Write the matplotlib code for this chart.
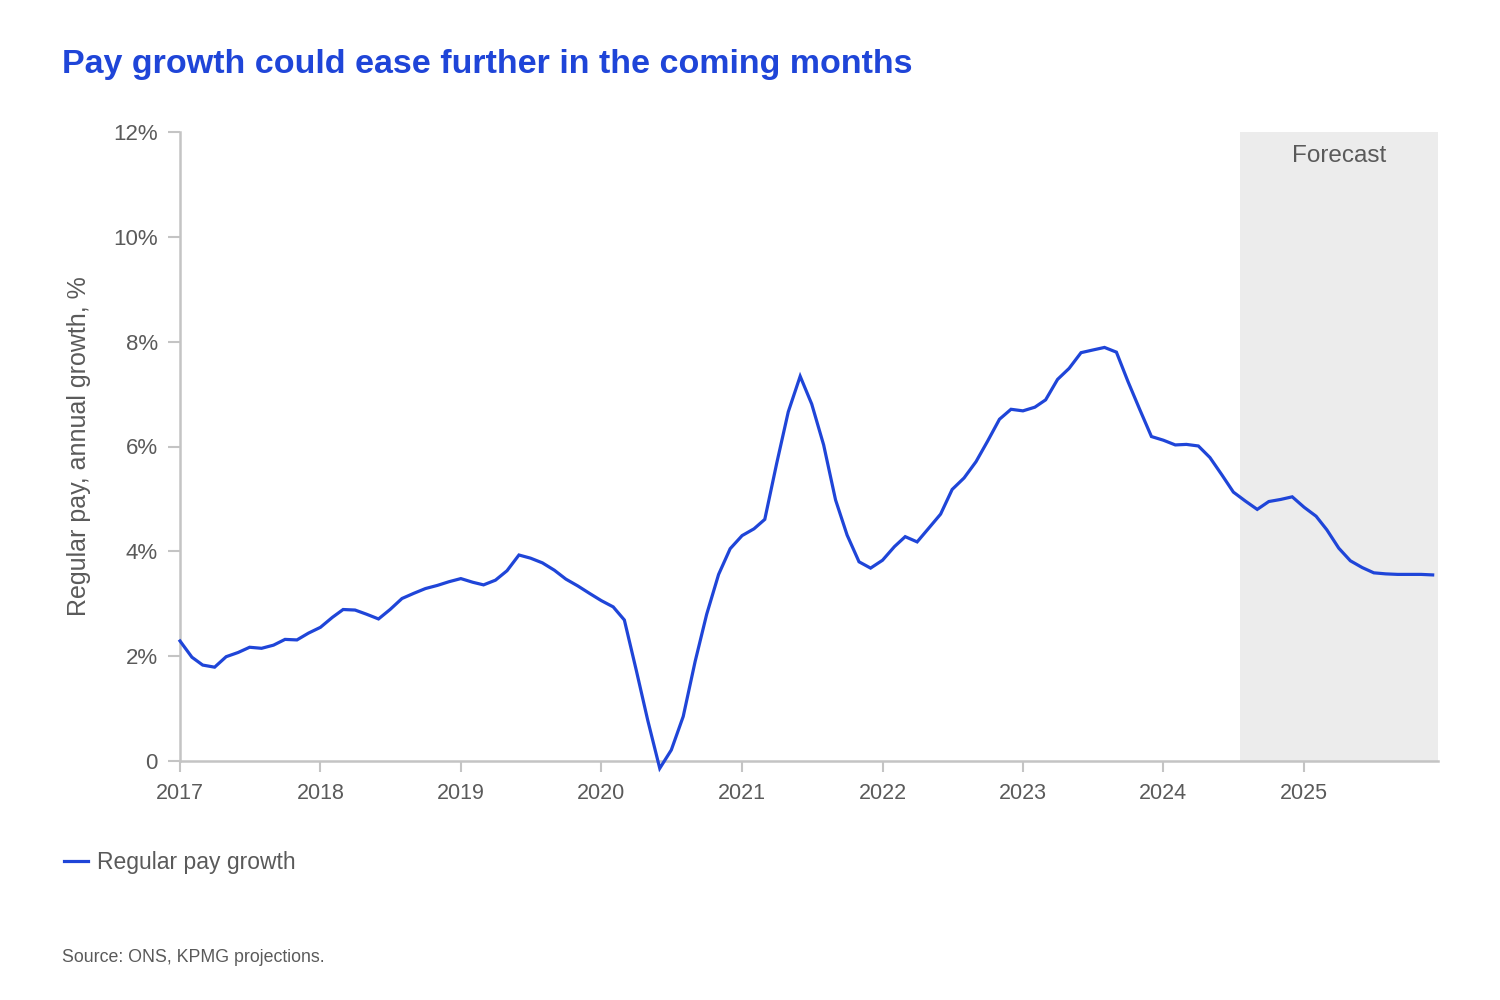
import matplotlib.pyplot as plt
import matplotlib.dates as mdates
import pandas as pd

# monthly regular pay growth, Jan 2017 - Dec 2025 (forecast from mid-2024)
months = pd.date_range("2017-01-01", periods=108, freq="MS")
pay_growth = [
    2.29, 1.98, 1.83, 1.79, 1.99, 2.07, 2.17, 2.15, 2.21, 2.32, 2.31, 2.44,
    2.55, 2.74, 2.89, 2.88, 2.80, 2.71, 2.89, 3.10, 3.20, 3.29, 3.35, 3.42,
    3.48, 3.41, 3.36, 3.45, 3.63, 3.93, 3.87, 3.78, 3.64, 3.47, 3.34, 3.20,
    3.06, 2.94, 2.69, 1.73, 0.77, -0.14, 0.21, 0.85, 1.90, 2.80, 3.56, 4.05,
    4.30, 4.43, 4.61, 5.68, 6.66, 7.34, 6.81, 6.03, 4.98, 4.31, 3.80, 3.68,
    3.83, 4.09, 4.28, 4.18, 4.44, 4.71, 5.18, 5.40, 5.71, 6.10, 6.52, 6.71,
    6.68, 6.75, 6.89, 7.28, 7.49, 7.79, 7.84, 7.89, 7.80, 7.24, 6.70, 6.19,
    6.12, 6.03, 6.04, 6.01, 5.79, 5.46, 5.13, 4.96, 4.80, 4.95, 4.99, 5.04,
    4.84, 4.67, 4.41, 4.06, 3.82, 3.69, 3.59, 3.57, 3.56, 3.56, 3.56, 3.55,
]
forecast_start = pd.Timestamp("2024-07-17")
x_end = pd.Timestamp("2025-12-15")
y_ticks = [0, 2, 4, 6, 8, 10, 12]
year_ticks = [pd.Timestamp(f"{y}-01-01") for y in range(2017, 2026)]

blue = "#1f45d8"
grey_text = "#5a5a5a"
axis_grey = "#c4c4c4"

plt.rcParams["font.family"] = ["Liberation Sans", "DejaVu Sans"]

fig = plt.figure(figsize=(15, 10), dpi=100)
ax = fig.add_axes([0.12, 0.239, 0.8387, 0.629])

ax.axvspan(forecast_start, x_end, color="#ececec", lw=0, zorder=0)
ax.plot(months, pay_growth, color=blue, lw=2.3, label="Regular pay growth", zorder=3,
        solid_joinstyle="miter", clip_on=False)

ax.set_xlim(months[0], x_end)
ax.set_ylim(0, 12)
ax.set_yticks(y_ticks)
ax.set_yticklabels(["0" if v == 0 else f"{v}%" for v in y_ticks])
ax.set_xticks(year_ticks)
ax.xaxis.set_major_formatter(mdates.DateFormatter("%Y"))

for s in ["top", "right"]:
    ax.spines[s].set_visible(False)
for s in ["left", "bottom"]:
    ax.spines[s].set_color(axis_grey)
    ax.spines[s].set_linewidth(1.8)
ax.tick_params(axis="y", length=9, width=1.5, color=axis_grey, labelcolor=grey_text,
               labelsize=16, pad=7)
ax.tick_params(axis="x", length=8, width=1.5, color=axis_grey, labelcolor=grey_text,
               labelsize=15.5, pad=8)
ax.set_ylabel("Regular pay, annual growth, %", fontsize=18, color=grey_text, labelpad=16)

ax.text(pd.Timestamp("2025-04-01"), 11.55, "Forecast", ha="center", va="center",
        fontsize=17.5, color=grey_text)

fig.text(0.041, 0.935, "Pay growth could ease further in the coming months",
         fontsize=24.5, fontweight="bold", color=blue, va="center")

leg = fig.legend(loc="center left", bbox_to_anchor=(0.029, 0.137), frameon=False,
                 fontsize=16.5, handlelength=1.05, handletextpad=0.4)
for t in leg.get_texts():
    t.set_color(grey_text)

fig.text(0.041, 0.043, "Source: ONS, KPMG projections.", fontsize=12.8, color=grey_text,
         va="center")

fig.savefig("out.png", dpi=100)
